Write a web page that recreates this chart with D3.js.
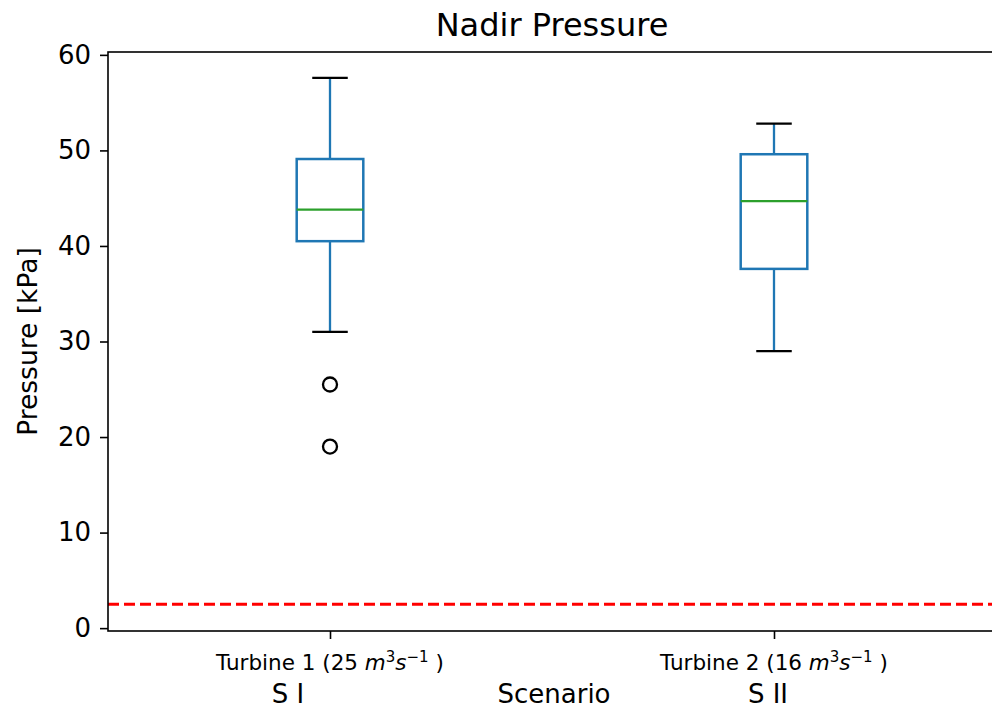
<!DOCTYPE html>
<html>
<head>
<meta charset="utf-8">
<script src="https://cdn.jsdelivr.net/npm/d3@7"></script>
<style>
  html, body { margin: 0; padding: 0; background: #fff; }
  text { font-family: "DejaVu Sans", sans-serif; fill: #000; }
</style>
</head>
<body>
<svg id="chart" width="992" height="710"></svg>
<script>
// Box statistics per turbine scenario (kPa)
const categories = ["Turbine 1", "Turbine 2"];
const flows = ["25", "16"];
const scenarioLabels = ["S I", "S II"];
const whiskerLow  = [31.0, 29.0];
const q1          = [40.5, 37.6];
const median      = [43.8, 44.7];
const q3          = [49.1, 49.6];
const whiskerHigh = [57.6, 52.8];
const outliers    = [[25.5, 19.0], []];
const thresholdValue = 2.5;
const yTicks = [0, 10, 20, 30, 40, 50, 60];

const svg = d3.select("#chart");
const margin = { left: 108, right: -4, top: 52, bottom: 79 };
const W = 992, H = 710;
const x0 = margin.left, x1 = W - margin.right;
const y0 = H - margin.bottom, y1 = margin.top;

const x = d3.scaleLinear().domain([0.5, 2.5]).range([x0, x1]);
const y = d3.scaleLinear().domain([-0.3, 60.3]).range([y0, y1]);

const boxW = 0.075; // half width, in position units
const capW = 0.04;

const g = svg.append("g");

// threshold line
g.append("line")
  .attr("x1", x0).attr("x2", x1)
  .attr("y1", y(thresholdValue)).attr("y2", y(thresholdValue))
  .attr("stroke", "#ff0000").attr("stroke-width", 3)
  .attr("stroke-dasharray", "11,5");

categories.forEach((c, i) => {
  const p = i + 1;
  const cx = x(p);
  const bl = x(p - boxW), br = x(p + boxW);
  // whiskers
  g.append("line").attr("x1", cx).attr("x2", cx)
    .attr("y1", y(q3[i])).attr("y2", y(whiskerHigh[i]))
    .attr("stroke", "#1f77b4").attr("stroke-width", 2.3);
  g.append("line").attr("x1", cx).attr("x2", cx)
    .attr("y1", y(q1[i])).attr("y2", y(whiskerLow[i]))
    .attr("stroke", "#1f77b4").attr("stroke-width", 2.3);
  // caps
  [whiskerHigh[i], whiskerLow[i]].forEach(v => {
    g.append("line").attr("x1", x(p - capW)).attr("x2", x(p + capW))
      .attr("y1", y(v)).attr("y2", y(v))
      .attr("stroke", "#000").attr("stroke-width", 2.3);
  });
  // box
  g.append("rect").attr("x", bl).attr("width", br - bl)
    .attr("y", y(q3[i])).attr("height", y(q1[i]) - y(q3[i]))
    .attr("fill", "none").attr("stroke", "#1f77b4").attr("stroke-width", 2.5);
  // median
  g.append("line").attr("x1", bl).attr("x2", br)
    .attr("y1", y(median[i])).attr("y2", y(median[i]))
    .attr("stroke", "#2ca02c").attr("stroke-width", 2.3);
  // fliers
  outliers[i].forEach(v => {
    g.append("circle").attr("cx", cx).attr("cy", y(v)).attr("r", 7)
      .attr("fill", "none").attr("stroke", "#000").attr("stroke-width", 2.3);
  });
});

// y axis
const yAxis = d3.axisLeft(y).tickValues(yTicks).tickSize(8).tickPadding(9);
const ya = svg.append("g").attr("transform", `translate(${x0},0)`).call(yAxis);
ya.select(".domain").remove();
ya.selectAll("line").attr("stroke", "#000").attr("stroke-width", 1.6);
ya.selectAll("text").style("font-size", "26px").style("font-family", "DejaVu Sans");

// x ticks
const xa = svg.append("g").attr("transform", `translate(0,${y0})`)
  .call(d3.axisBottom(x).tickValues([1, 2]).tickSize(8).tickFormat(""));
xa.select(".domain").remove();
xa.selectAll("line").attr("stroke", "#000").attr("stroke-width", 1.6);

// x tick labels with units
categories.forEach((c, i) => {
  const t = svg.append("text").attr("x", x(i + 1)).attr("y", 670)
    .attr("text-anchor", "middle").style("font-size", "21.5px");
  t.append("tspan").text(`${c} (${flows[i]} `);
  t.append("tspan").attr("font-style", "italic").text("m");
  t.append("tspan").attr("dy", -8).style("font-size", "15px").text("3");
  t.append("tspan").attr("dy", 8).attr("font-style", "italic").text("s");
  t.append("tspan").attr("dy", -8).style("font-size", "15px").text("\u22121");
  t.append("tspan").attr("dy", 8).text(" )");
});

// spines
svg.append("rect").attr("x", x0).attr("y", y1)
  .attr("width", x1 - x0).attr("height", y0 - y1)
  .attr("fill", "none").attr("stroke", "#000").attr("stroke-width", 1.6);

// scenario labels and x-axis label
const labelRow = [
  { t: scenarioLabels[0], x: 288 },
  { t: "Scenario", x: 554 },
  { t: scenarioLabels[1], x: 768 }
];
labelRow.forEach(d => {
  svg.append("text").attr("x", d.x).attr("y", 703)
    .attr("text-anchor", "middle").style("font-size", "26px").text(d.t);
});

// title
svg.append("text").attr("x", (x0 + x1) / 2).attr("y", 36)
  .attr("text-anchor", "middle").style("font-size", "32px").text("Nadir Pressure");

// y label
svg.append("text")
  .attr("transform", `translate(37,${(y0 + y1) / 2}) rotate(-90)`)
  .attr("text-anchor", "middle").style("font-size", "26.5px").text("Pressure [kPa]");
</script>
</body>
</html>
